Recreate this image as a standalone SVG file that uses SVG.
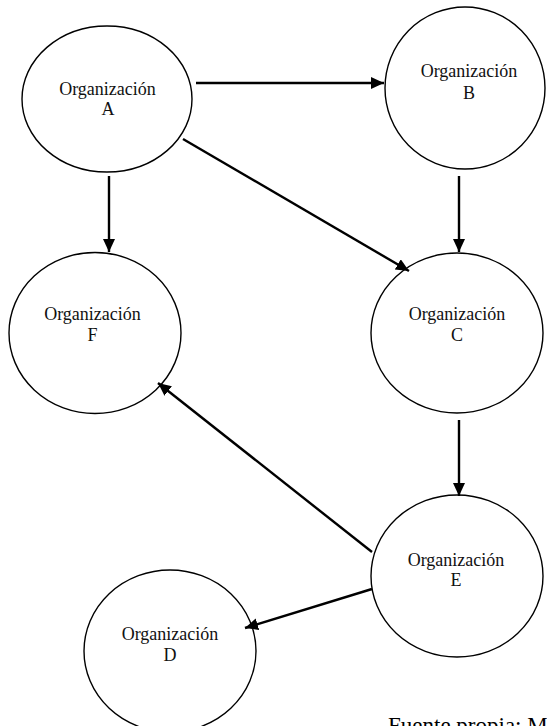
<svg xmlns="http://www.w3.org/2000/svg" width="547" height="726" viewBox="0 0 547 726">
  <style>
    .node ellipse { fill: #ffffff; stroke: #000000; stroke-width: 1.4; }
    .node text { font-family: "Liberation Serif", "Times New Roman", serif; font-size: 18px; fill: #111111; text-anchor: middle; }
    .edge { stroke: #000000; stroke-width: 2.4; fill: none; marker-end: url(#arrow); }
    .caption { font-family: "Liberation Serif", "Times New Roman", serif; font-size: 23px; fill: #000000; }
  </style>
  <defs>
    <marker id="arrow" markerUnits="userSpaceOnUse" markerWidth="14" markerHeight="13" refX="13" refY="6" orient="auto">
      <path d="M0,0 L13,6 L0,12 z" fill="#000000"/>
    </marker>
  </defs>
  <rect width="547" height="726" fill="#ffffff"/>
  <g id="nodeA" class="node">
    <ellipse cx="107" cy="99" rx="85" ry="73"/>
    <text x="107.5" y="95">Organización</text>
    <text x="108" y="115">A</text>
  </g>
  <g id="nodeB" class="node">
    <ellipse cx="465" cy="88" rx="80" ry="81"/>
    <text x="469" y="77">Organización</text>
    <text x="469" y="99">B</text>
  </g>
  <g id="nodeF" class="node">
    <ellipse cx="95" cy="333" rx="86" ry="80.5"/>
    <text x="92.5" y="320">Organización</text>
    <text x="92.5" y="341">F</text>
  </g>
  <g id="nodeC" class="node">
    <ellipse cx="457" cy="333" rx="86" ry="80"/>
    <text x="457" y="320">Organización</text>
    <text x="457" y="341">C</text>
  </g>
  <g id="nodeE" class="node">
    <ellipse cx="457" cy="576" rx="86" ry="81"/>
    <text x="456" y="566">Organización</text>
    <text x="456" y="586">E</text>
  </g>
  <g id="nodeD" class="node">
    <ellipse cx="170" cy="651" rx="86" ry="81"/>
    <text x="170" y="640">Organización</text>
    <text x="170" y="661">D</text>
  </g>
  <g id="connectors">
    <line class="edge" x1="196" y1="83" x2="384" y2="83"/>
    <line class="edge" x1="109" y1="176" x2="109" y2="252"/>
    <line class="edge" x1="459" y1="176" x2="459" y2="252"/>
    <line class="edge" x1="183" y1="139" x2="409" y2="271"/>
    <line class="edge" x1="459" y1="420" x2="459" y2="496"/>
    <line class="edge" x1="372" y1="552" x2="158" y2="383"/>
    <line class="edge" x1="372" y1="589" x2="245" y2="628"/>
  </g>
  <text class="caption" x="388" y="733">Fuente propia: M</text>
</svg>
